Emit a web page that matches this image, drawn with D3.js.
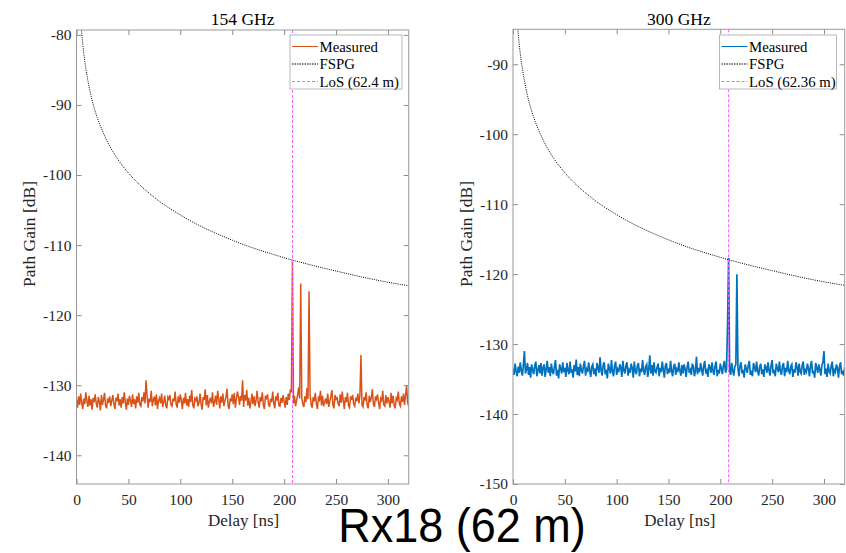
<!DOCTYPE html>
<html>
<head>
<meta charset="utf-8">
<script src="https://cdn.jsdelivr.net/npm/d3@7"></script>
<style>
    body { margin: 0; background: #fff; }
    svg { display: block; }
    .tick text { font-family: "Liberation Serif", "Times New Roman", serif; fill: #262626; }
    .tick line { stroke: #8c8c8c; }
</style>
</head>
<body>
<svg id="chart" width="846" height="553"></svg>
<script>
// delay axis ticks [ns]
const delayTicks = [0, 50, 100, 150, 200, 250, 300];
const gainTicks154 = [-140, -130, -120, -110, -100, -90, -80];
const gainTicks300 = [-150, -140, -130, -120, -110, -100, -90];

// measured path gain [dB], one sample per ns starting at 0 ns
const measured154 = [
    -132.1,-133.2,-131.6,-132.8,-131.2,-132.5,-133.4,-131.9,-132.7,-131.0,-132.2,-133.1,-131.5,-132.9,-132.0,-133.5,-131.8,-132.4,-131.3,-132.6,
    -133.2,-131.7,-132.3,-133.6,-131.4,-132.8,-132.1,-131.1,-132.9,-133.3,-131.9,-132.5,-131.6,-133.0,-132.2,-131.4,-132.7,-133.4,-131.8,-132.3,
    -131.2,-132.9,-132.0,-133.2,-131.7,-132.6,-131.0,-132.4,-133.5,-131.9,-132.8,-131.5,-132.2,-133.1,-131.3,-132.7,-132.0,-133.3,-131.6,-132.5,
    -131.1,-132.8,-133.0,-131.7,-132.3,-131.0,-132.6,-129.3,-131.5,-133.2,-131.9,-132.4,-130.8,-133.0,-132.1,-131.6,-132.9,-131.3,-133.4,-132.2,
    -131.8,-132.6,-131.2,-133.1,-132.4,-131.5,-132.9,-133.3,-131.7,-132.0,-131.4,-132.8,-133.0,-131.9,-132.3,-130.9,-132.7,-133.2,-131.6,-132.5,
    -131.3,-132.2,-133.4,-131.8,-132.6,-131.1,-132.9,-132.0,-133.1,-131.5,-132.4,-130.7,-132.8,-133.3,-131.9,-132.2,-131.6,-133.0,-132.5,-131.2,
    -132.7,-133.5,-131.7,-132.1,-130.6,-132.9,-131.4,-133.2,-132.3,-131.8,-132.6,-131.0,-133.1,-132.4,-131.5,-132.8,-130.8,-132.0,-133.3,-131.6,
    -132.5,-131.2,-133.0,-132.2,-131.7,-130.5,-132.9,-133.4,-131.9,-132.3,-131.3,-132.7,-131.1,-133.2,-132.0,-130.9,-131.6,-132.8,-131.5,-132.2,
    -129.3,-133.1,-131.4,-132.2,-130.7,-132.9,-131.8,-133.3,-132.4,-131.2,-132.7,-131.6,-133.0,-132.1,-130.8,-132.5,-133.2,-131.7,-132.3,-131.0,
    -132.8,-133.4,-131.5,-132.0,-131.3,-132.7,-133.1,-131.9,-132.4,-130.9,-132.6,-133.3,-131.6,-132.2,-131.1,-132.9,-133.0,-131.8,-132.5,-131.4,
    -132.3,-133.2,-131.7,-132.8,-131.2,-132.1,-130.6,-131.0,-112.1,-132.6,-131.5,-133.0,-132.2,-131.4,-130.3,-131.9,-115.5,-131.8,-132.7,-133.1,
    -131.6,-132.4,-130.4,-132.0,-116.6,-131.3,-132.8,-133.2,-131.7,-132.3,-131.1,-132.6,-133.4,-131.8,-132.1,-130.8,-132.9,-131.5,-133.0,-132.4,
    -131.9,-132.7,-131.2,-133.1,-132.3,-131.6,-130.7,-132.8,-133.3,-131.4,-132.0,-131.8,-132.6,-133.0,-131.3,-132.5,-130.9,-132.2,-133.4,-131.7,
    -132.4,-131.1,-132.9,-133.2,-131.6,-132.1,-131.4,-132.7,-133.0,-131.8,-132.3,-131.2,-132.6,-131.5,-125.7,-132.8,-133.1,-131.7,-132.2,-131.0,
    -132.9,-133.3,-131.5,-132.4,-131.8,-130.6,-132.7,-133.1,-131.6,-132.0,-131.3,-132.5,-133.4,-131.9,-132.2,-130.8,-132.8,-133.0,-131.4,-132.6,
    -131.7,-132.3,-133.2,-131.1,-132.6,-131.5,-132.9,-133.3,-131.8,-132.1,-130.9,-132.7,-133.0,-131.6,-132.4,-131.2,-132.8,-131.4,-130.0,-132.5,
    -133.0
];

const measured300 = [
    -133.5,-134.4,-132.8,-133.9,-134.6,-133.2,-134.1,-132.6,-133.8,-134.5,-133.0,-131.0,-134.2,-133.6,-132.7,-134.4,-133.3,-134.8,-132.9,-133.7,
    -134.3,-133.1,-132.5,-134.6,-133.8,-133.0,-134.2,-132.7,-134.5,-133.4,-132.9,-134.7,-133.6,-132.4,-134.1,-133.3,-134.6,-132.8,-133.9,-134.3,
    -133.2,-132.3,-134.5,-133.7,-134.9,-132.9,-133.5,-134.2,-132.6,-134.0,-133.4,-134.7,-132.7,-133.8,-134.3,-132.5,-134.1,-133.6,-134.8,-133.0,
    -133.9,-132.2,-134.4,-133.3,-134.6,-132.8,-133.7,-134.2,-133.1,-132.4,-134.5,-133.6,-134.0,-132.6,-133.8,-134.7,-133.2,-132.9,-134.3,-133.5,
    -134.6,-132.7,-133.4,-134.1,-131.9,-133.8,-134.5,-133.0,-132.6,-134.3,-133.7,-134.9,-132.8,-133.5,-134.2,-132.3,-133.9,-134.6,-133.1,-132.5,
    -134.4,-133.6,-134.0,-132.9,-133.3,-134.7,-132.4,-133.8,-134.2,-133.0,-132.6,-134.5,-133.7,-134.1,-132.8,-133.4,-134.8,-132.5,-133.9,-134.3,
    -133.1,-132.7,-134.6,-133.5,-134.0,-132.3,-133.8,-134.4,-133.2,-132.9,-134.7,-133.6,-131.6,-134.2,-133.0,-134.5,-132.6,-133.9,-134.1,-133.3,
    -132.8,-134.6,-133.4,-134.0,-132.5,-133.7,-134.8,-133.1,-132.7,-134.3,-133.5,-134.1,-132.4,-133.9,-134.6,-133.2,-132.8,-134.4,-133.6,-134.0,
    -132.6,-133.8,-134.5,-133.0,-134.2,-132.9,-133.5,-134.7,-133.3,-132.5,-134.1,-133.7,-134.4,-132.8,-133.2,-134.6,-133.9,-131.8,-134.3,-133.4,
    -134.0,-132.7,-133.6,-134.5,-133.1,-132.4,-134.2,-133.8,-134.7,-132.9,-133.3,-134.1,-132.6,-133.9,-134.4,-133.0,-132.5,-134.6,-133.7,-134.2,
    -132.8,-133.5,-134.3,-133.0,-132.4,-134.1,-133.6,-127.2,-117.7,-133.9,-134.4,-132.7,-133.8,-134.5,-133.2,-132.9,-120.0,-133.4,-134.6,-133.1,
    -132.6,-134.2,-133.7,-134.8,-132.9,-133.5,-134.1,-133.0,-132.4,-134.4,-133.8,-134.6,-132.7,-133.3,-134.0,-132.5,-133.9,-134.5,-133.2,-132.8,
    -134.3,-133.6,-134.7,-132.9,-133.4,-134.1,-132.6,-133.8,-134.5,-133.0,-132.3,-134.2,-133.7,-134.6,-132.8,-133.5,-134.0,-132.5,-133.9,-134.4,
    -133.1,-132.7,-134.6,-133.4,-134.0,-132.4,-133.8,-134.3,-133.2,-132.9,-134.7,-133.6,-134.1,-132.6,-133.3,-134.5,-132.8,-133.9,-134.2,-133.0,
    -132.5,-134.4,-133.7,-134.0,-132.8,-133.5,-134.6,-133.1,-132.4,-134.2,-133.8,-134.8,-132.7,-133.4,-134.1,-132.9,-133.6,-134.5,-133.0,-132.6,
    -131.0,-134.3,-133.5,-134.7,-132.8,-133.9,-134.2,-133.1,-132.5,-134.6,-133.7,-134.0,-132.9,-133.4,-134.8,-133.2,-132.6,-134.3,-133.8,-134.5,
    -133.3
];

// free space path gain: [delay ns, gain dB]
const fspg154 = [
    [4, -77.8], [5, -79.7], [6, -81.3], [8, -83.8], [10, -85.7], [15, -89.3], [20, -91.8], [25, -93.7],
    [30, -95.3], [40, -97.8], [50, -99.7], [75, -103.2], [100, -105.7], [150, -109.3], [200, -111.8],
    [250, -113.7], [300, -115.3], [320, -115.8]
];
const fspg300 = [
    [4, -83.6], [5, -85.5], [6, -87.1], [8, -89.6], [10, -91.5], [15, -95.1], [20, -97.6], [25, -99.5],
    [30, -101.1], [40, -103.6], [50, -105.5], [75, -109.0], [100, -111.5], [150, -115.1], [200, -117.6],
    [250, -119.5], [300, -121.1], [320, -121.6]
];

// line of sight delay [ns]
const losDelay154 = 208.1;
const losDelay300 = 208.0;

const legend154 = ["Measured", "FSPG", "LoS (62.4 m)"];
const legend300 = ["Measured", "FSPG", "LoS (62.36 m)"];

const svg = d3.select("#chart");
const serif = "'Liberation Serif', 'Times New Roman', serif";
const axisGray = "#9a9a9a";
const textColor = "#262626";
const losColor = "#ff5cff";

const panels = [
    {
        id: "p154", title: "154 GHz", x0: 76.5, x1: 408.7, y0: 30, y1: 484,
        yDomain: [-144.1, -79.3], yTicks: gainTicks154, color: "#D95319", lineWidth: 1.5,
        measured: measured154, fspg: fspg154, los: losDelay154, legend: legend154,
        legendBox: {x: 290, y: 35, w: 112, h: 54}, yLabelX: 35
    },
    {
        id: "p300", title: "300 GHz", x0: 513, x1: 844.7, y0: 29.3, y1: 484,
        yDomain: [-150, -85], yTicks: gainTicks300, color: "#0072BD", lineWidth: 1.7,
        measured: measured300, fspg: fspg300, los: losDelay300, legend: legend300,
        legendBox: {x: 719.5, y: 35, w: 117, h: 54}, yLabelX: 472
    }
];

function drawPanel(p) {
    let x = d3.scaleLinear().domain([0, 320]).range([p.x0, p.x1]);
    let y = d3.scaleLinear().domain(p.yDomain).range([p.y1, p.y0]);

    svg.append("defs").append("clipPath")
        .attr("id", "clip-" + p.id)
        .append("rect")
        .attr("x", p.x0).attr("y", p.y0)
        .attr("width", p.x1 - p.x0).attr("height", p.y1 - p.y0);

    let plot = svg.append("g").attr("clip-path", "url(#clip-" + p.id + ")");

    let measuredLine = d3.line()
        .x((d, i) => x(i))
        .y(d => y(d));
    plot.append("path")
        .datum(p.measured)
        .attr("d", measuredLine)
        .attr("fill", "none")
        .attr("stroke", p.color)
        .attr("stroke-width", p.lineWidth)
        .attr("stroke-linejoin", "miter");

    let fspgLine = d3.line()
        .curve(d3.curveMonotoneX)
        .x(d => x(d[0]))
        .y(d => y(d[1]));
    plot.append("path")
        .datum(p.fspg)
        .attr("d", fspgLine)
        .attr("fill", "none")
        .attr("stroke", "#000")
        .attr("stroke-width", 1)
        .attr("stroke-dasharray", "1,1.2");

    plot.append("line")
        .attr("x1", x(p.los)).attr("x2", x(p.los))
        .attr("y1", p.y0).attr("y2", p.y1)
        .attr("stroke", losColor)
        .attr("stroke-width", 1)
        .attr("stroke-dasharray", "3,2");

    // axes, ticks pointing inwards on all four sides
    let bottom = svg.append("g")
        .attr("transform", "translate(0," + p.y1 + ")")
        .call(d3.axisBottom(x).tickValues(delayTicks).tickSizeInner(-5).tickSizeOuter(0).tickPadding(10));
    svg.append("g")
        .attr("transform", "translate(0," + p.y0 + ")")
        .call(d3.axisTop(x).tickValues(delayTicks).tickSizeInner(-5).tickSizeOuter(0).tickFormat(""));
    let left = svg.append("g")
        .attr("transform", "translate(" + p.x0 + ",0)")
        .call(d3.axisLeft(y).tickValues(p.yTicks).tickSizeInner(-5).tickSizeOuter(0).tickPadding(5)
            .tickFormat(d => String(d)));
    svg.append("g")
        .attr("transform", "translate(" + p.x1 + ",0)")
        .call(d3.axisRight(y).tickValues(p.yTicks).tickSizeInner(-5).tickSizeOuter(0).tickFormat(""));

    svg.selectAll(".domain").remove();
    bottom.selectAll("text").style("font-size", "15.5px");
    left.selectAll("text").style("font-size", "15.5px");

    svg.append("rect")
        .attr("x", p.x0).attr("y", p.y0)
        .attr("width", p.x1 - p.x0).attr("height", p.y1 - p.y0)
        .attr("fill", "none")
        .attr("stroke", axisGray)
        .attr("stroke-width", 1);

    svg.append("text")
        .attr("x", (p.x0 + p.x1) / 2).attr("y", 25)
        .attr("text-anchor", "middle")
        .style("font-family", serif).style("font-size", "17.5px")
        .attr("fill", "#000")
        .text(p.title);

    svg.append("text")
        .attr("x", (p.x0 + p.x1) / 2 + 1).attr("y", 526)
        .attr("text-anchor", "middle")
        .style("font-family", serif).style("font-size", "17px")
        .attr("fill", textColor)
        .text("Delay [ns]");

    svg.append("text")
        .attr("transform", "translate(" + p.yLabelX + ",234) rotate(-90)")
        .attr("text-anchor", "middle")
        .style("font-family", serif).style("font-size", "17.5px")
        .attr("fill", textColor)
        .text("Path Gain [dB]");

    drawLegend(p);
}

function drawLegend(p) {
    let b = p.legendBox;
    let g = svg.append("g");
    g.append("rect")
        .attr("x", b.x).attr("y", b.y)
        .attr("width", b.w).attr("height", b.h)
        .attr("fill", "#fff")
        .attr("stroke", "#a8a8a8")
        .attr("stroke-width", 0.8);

    let styles = [
        {stroke: p.color, dash: null},
        {stroke: "#000", dash: "1.5,1"},
        {stroke: losColor, dash: "3,2"}
    ];
    p.legend.forEach((label, i) => {
        let cy = b.y + 11.5 + i * 17.5;
        g.append("line")
            .attr("x1", b.x + 2).attr("x2", b.x + 28)
            .attr("y1", cy).attr("y2", cy)
            .attr("stroke", styles[i].stroke)
            .attr("stroke-width", 1)
            .attr("stroke-dasharray", styles[i].dash);
        g.append("text")
            .attr("x", b.x + 29.5).attr("y", cy + 5)
            .style("font-family", serif).style("font-size", "14.8px")
            .attr("fill", "#000")
            .text(label);
    });
}

panels.forEach(drawPanel);

svg.append("text")
    .attr("transform", "translate(462,542) scale(1,1.06)")
    .attr("text-anchor", "middle")
    .style("font-family", "'Liberation Sans', Arial, sans-serif")
    .style("font-size", "45px")
    .attr("fill", "#000")
    .text("Rx18 (62 m)");
</script>
</body>
</html>
